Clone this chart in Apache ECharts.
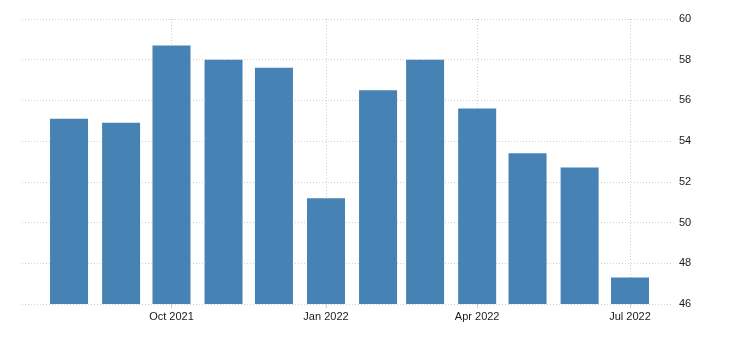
<!DOCTYPE html>
<html>
<head>
<meta charset="utf-8">
<script src="https://cdn.jsdelivr.net/npm/echarts@6/dist/echarts.min.js"></script>
<style>html,body{margin:0;padding:0;background:#fff}#c{width:730px;height:348px}</style>
</head>
<body>
<div id="c"></div>
<script>
var months = ['2021-08','2021-09','2021-10','2021-11','2021-12','2022-01','2022-02','2022-03','2022-04','2022-05','2022-06','2022-07'];
var values = [55.1, 54.9, 58.7, 58.0, 57.6, 51.2, 56.5, 58.0, 55.6, 53.4, 52.7, 47.3];
var xTickMonths = ['2021-10','2022-01','2022-04','2022-07'];
var xTickLabels = ['Oct 2021','Jan 2022','Apr 2022','Jul 2022'];
var xRange = ['2021-07-04','2022-07-26'];
var yMin = 46, yMax = 60, yStep = 2;

function toDay(s){
  var p = s.split('-');
  return Date.UTC(+p[0], +p[1]-1, p[2] ? +p[2] : 1) / 86400000;
}
var tickDays = xTickMonths.map(toDay);
var labelMap = {};
tickDays.forEach(function(t,i){ labelMap[t] = xTickLabels[i]; });

var chart = echarts.init(document.getElementById('c'));
chart.setOption({
  animation: false,
  grid: { left: 22, right: 58, top: 19, bottom: 44, containLabel: false },
  xAxis: {
    type: 'value',
    min: toDay(xRange[0]),
    max: toDay(xRange[1]),
    axisLine: { show: false },
    axisTick: { show: true, customValues: tickDays, length: 4, lineStyle: { color: '#ccc' } },
    axisLabel: {
      customValues: tickDays,
      margin: 7,
      color: '#1a1a1a',
      fontSize: 11,
      fontFamily: 'Liberation Sans, Arial, sans-serif',
      formatter: function(v){ return labelMap[v] || ''; }
    },
    splitLine: { show: true, lineStyle: { color: '#d0d0d0', type: [1,2], width: 1 } }
  },
  yAxis: {
    type: 'value',
    position: 'right',
    min: yMin, max: yMax, interval: yStep,
    axisLine: { show: false },
    axisTick: { show: false },
    axisLabel: { margin: 7, color: '#1a1a1a', fontSize: 11, fontFamily: 'Liberation Sans, Arial, sans-serif' },
    splitLine: { show: true, lineStyle: { color: '#d0d0d0', type: [1,2], width: 1 } }
  },
  series: [{
    type: 'bar',
    barWidth: 38,
    itemStyle: { color: '#4682B4' },
    data: months.map(function(m,i){ return [toDay(m), values[i]]; })
  }]
});
</script>
</body>
</html>
